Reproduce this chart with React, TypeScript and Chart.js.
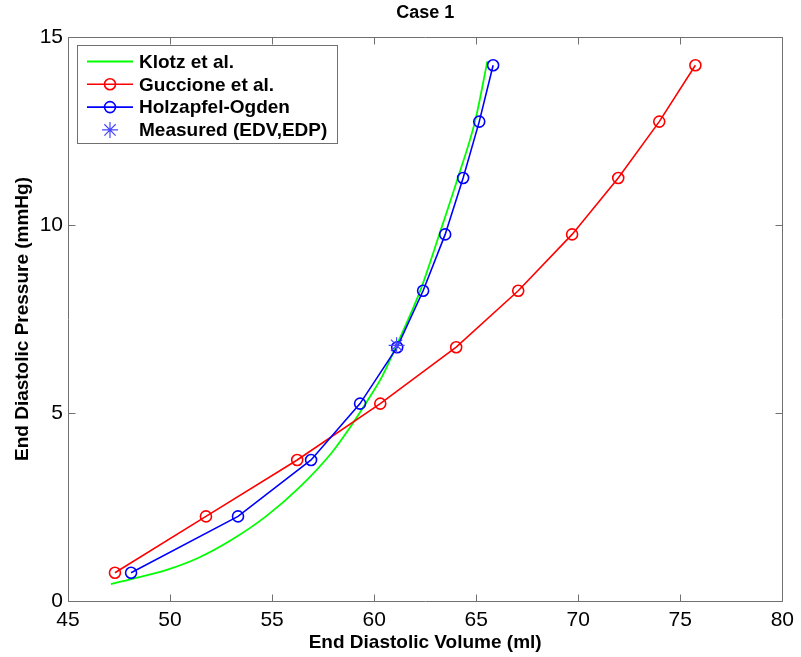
import React, { useEffect, useRef } from 'react';
import { Chart, registerables } from 'chart.js';

Chart.register(...registerables);

// ---- data ----
const pressureLevels = [0.75, 2.25, 3.75, 5.25, 6.75, 8.25, 9.75, 11.25, 12.75, 14.25];
const guccioneVolume = [47.3, 51.76, 56.23, 60.3, 64.02, 67.06, 69.7, 71.96, 73.97, 75.74];
const holzapfelVolume = [48.09, 53.33, 56.91, 59.31, 61.13, 62.4, 63.48, 64.36, 65.15, 65.83];
const klotzVolume = [47.1, 48.1, 49.8, 51.4, 53.0, 54.7, 56.3, 57.9, 58.8, 59.7, 60.4, 61.1, 62.25, 63.2, 64.1, 64.95, 65.55];
const klotzPressure = [0.45, 0.58, 0.82, 1.15, 1.62, 2.25, 3.0, 3.93, 4.6, 5.35, 5.98, 6.8, 8.24, 9.76, 11.25, 12.77, 14.36];
const measuredVolume = [61.1];
const measuredPressure = [6.8];
const xTickValues = [45, 50, 55, 60, 65, 70, 75, 80];
const yTickValues = [0, 5, 10, 15];

const seriesLabels = ['Klotz et al.', 'Guccione et al.', 'Holzapfel-Ogden', 'Measured (EDV,EDP)'];
const chartTitle = 'Case 1';
const xTitle = 'End Diastolic Volume (ml)';
const yTitle = 'End Diastolic Pressure (mmHg)';

const FONT = "'Liberation Sans', Arial, Helvetica, sans-serif";
const AXIS_COLOR = '#707070';

const pts = (xs: number[], ys: number[]) => xs.map((x, i) => ({ x, y: ys[i] }));

const framePlugin = {
  id: 'matlabFrame',
  afterDatasetsDraw(chart: any) {
    const { ctx, chartArea } = chart;
    const { left, right, top, bottom } = chartArea;
    const xs = chart.scales.x;
    const ys = chart.scales.y;
    const tl = 7;
    ctx.save();
    ctx.strokeStyle = AXIS_COLOR;
    ctx.lineWidth = 1;
    ctx.beginPath();
    const L = Math.round(left) + 0.5;
    const R = Math.round(right) + 0.5;
    const T = Math.round(top) + 0.5;
    const B = Math.round(bottom) + 0.5;
    ctx.rect(L, T, R - L, B - T);
    xs.ticks.forEach((t: any) => {
      const p = Math.round(xs.getPixelForValue(t.value)) + 0.5;
      ctx.moveTo(p, B);
      ctx.lineTo(p, B - tl);
      ctx.moveTo(p, T);
      ctx.lineTo(p, T + tl);
    });
    ys.ticks.forEach((t: any) => {
      const p = Math.round(ys.getPixelForValue(t.value)) + 0.5;
      ctx.moveTo(L, p);
      ctx.lineTo(L + tl, p);
      ctx.moveTo(R, p);
      ctx.lineTo(R - tl, p);
    });
    ctx.stroke();
    ctx.restore();
  },
};

const legendPlugin = {
  id: 'insideLegend',
  afterDraw(chart: any) {
    const { ctx, chartArea } = chart;
    const left = Math.round(chartArea.left) + 9;
    const top = Math.round(chartArea.top) + 8;
    const w = 260;
    const h = 98;
    ctx.save();
    ctx.fillStyle = '#ffffff';
    ctx.fillRect(left, top, w, h);
    ctx.strokeStyle = AXIS_COLOR;
    ctx.lineWidth = 1;
    ctx.strokeRect(left + 0.5, top + 0.5, w, h);
    chart.data.datasets.forEach((ds: any, i: number) => {
      const cy = top + 16.5 + i * 22.8;
      const x0 = left + 10;
      const x1 = left + 56;
      const cx = (x0 + x1) / 2;
      ctx.strokeStyle = ds.borderColor;
      ctx.lineWidth = ds.borderWidth;
      if (ds.showLine !== false) {
        ctx.beginPath();
        ctx.moveTo(x0, cy);
        ctx.lineTo(x1, cy);
        ctx.stroke();
      }
      if (ds.pointRadius > 0) {
        ctx.lineWidth = ds.pointBorderWidth;
        ctx.strokeStyle = ds.pointBorderColor || ds.borderColor;
        const r = ds.pointRadius;
        ctx.beginPath();
        if (ds.pointStyle === 'star') {
          for (let k = 0; k < 4; k++) {
            const a = (k * Math.PI) / 4;
            ctx.moveTo(cx + r * Math.cos(a), cy + r * Math.sin(a));
            ctx.lineTo(cx - r * Math.cos(a), cy - r * Math.sin(a));
          }
        } else {
          ctx.arc(cx, cy, r, 0, Math.PI * 2);
        }
        ctx.stroke();
      }
      ctx.fillStyle = '#000';
      ctx.font = `bold 19px ${FONT}`;
      ctx.textBaseline = 'middle';
      ctx.textAlign = 'left';
      ctx.fillText(ds.label, left + 62, cy + 1);
    });
    ctx.restore();
  },
};

export default function App() {
  const canvasRef = useRef<HTMLCanvasElement | null>(null);

  useEffect(() => {
    const canvas = canvasRef.current;
    if (!canvas) return;
    Chart.defaults.font.family = FONT;
    const chart = new Chart(canvas, {
      type: 'line',
      data: {
        datasets: [
          {
            label: seriesLabels[0],
            data: pts(klotzVolume, klotzPressure),
            borderColor: '#00ff00',
            backgroundColor: '#00ff00',
            borderWidth: 1.8,
            pointRadius: 0,
            cubicInterpolationMode: 'monotone',
            order: 4,
          },
          {
            label: seriesLabels[1],
            data: pts(guccioneVolume, pressureLevels),
            borderColor: '#ff0000',
            backgroundColor: 'transparent',
            borderWidth: 1.6,
            pointRadius: 5.5,
            pointBorderWidth: 1.6,
            pointBorderColor: '#ff0000',
            pointBackgroundColor: 'transparent',
            pointStyle: 'circle',
            tension: 0,
            order: 3,
          },
          {
            label: seriesLabels[2],
            data: pts(holzapfelVolume, pressureLevels),
            borderColor: '#0000ff',
            backgroundColor: 'transparent',
            borderWidth: 1.6,
            pointRadius: 5.5,
            pointBorderWidth: 1.6,
            pointBorderColor: '#0000ff',
            pointBackgroundColor: 'transparent',
            pointStyle: 'circle',
            tension: 0,
            order: 2,
          },
          {
            label: seriesLabels[3],
            data: pts(measuredVolume, measuredPressure),
            borderColor: '#4646ff',
            backgroundColor: 'transparent',
            borderWidth: 1,
            showLine: false,
            pointRadius: 8,
            pointBorderWidth: 1.2,
            pointBorderColor: '#4646ff',
            pointStyle: 'star',
            order: 1,
          },
        ] as any,
      },
      options: {
        responsive: false,
        animation: false,
        devicePixelRatio: 1,
        layout: { padding: { left: 0, right: 18, top: 0, bottom: 0 } },
        plugins: {
          legend: { display: false },
          tooltip: { enabled: false },
          title: {
            display: true,
            text: chartTitle,
            fullSize: false,
            color: '#000',
            font: { family: FONT, size: 18, weight: 'bold' },
            padding: { top: 2, bottom: 13.4 },
          },
        },
        scales: {
          x: {
            type: 'linear',
            min: 45,
            max: 80,
            afterBuildTicks: (s: any) => {
              s.ticks = xTickValues.map((v) => ({ value: v }));
            },
            afterFit: (s: any) => {
              s.height = 56;
            },
            grid: { display: false, drawTicks: false },
            border: { display: false },
            ticks: {
              color: '#000',
              padding: 7,
              font: { family: FONT, size: 21 },
              maxRotation: 0,
              autoSkip: false,
            },
            title: {
              display: true,
              text: xTitle,
              color: '#000',
              font: { family: FONT, size: 19, weight: 'bold' },
              padding: { top: 0, bottom: 3 },
            },
          },
          y: {
            type: 'linear',
            min: 0,
            max: 15,
            afterBuildTicks: (s: any) => {
              s.ticks = yTickValues.map((v) => ({ value: v }));
            },
            afterFit: (s: any) => {
              s.width = 68;
            },
            grid: { display: false, drawTicks: false },
            border: { display: false },
            ticks: {
              color: '#000',
              padding: 5,
              font: { family: FONT, size: 21 },
              autoSkip: false,
            },
            title: {
              display: true,
              text: yTitle,
              color: '#000',
              font: { family: FONT, size: 19, weight: 'bold' },
              padding: { top: 11, bottom: 0 },
            },
          },
        },
      } as any,
      plugins: [framePlugin, legendPlugin],
    });
    return () => chart.destroy();
  }, []);

  return (
    <div style={{ position: 'absolute', left: 0, top: 0, width: 801, height: 657, background: '#fff' }}>
      <canvas ref={canvasRef} width={801} height={657} style={{ display: 'block' }} />
    </div>
  );
}
